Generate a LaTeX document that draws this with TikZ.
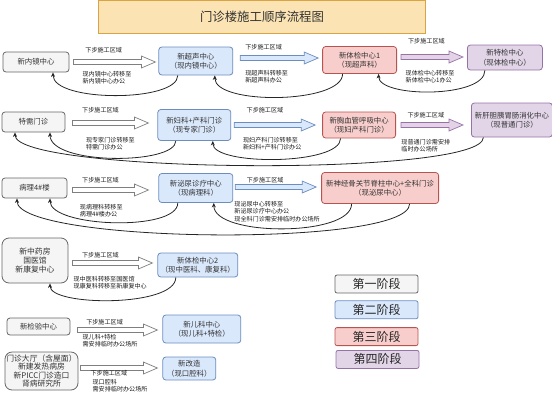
\documentclass[tikz,border=0pt]{standalone}
\usepackage{fontspec}
\setmainfont{Noto Sans CJK SC}
\usepackage{tikz}
\usetikzlibrary{calc,arrows.meta,positioning}
\definecolor{grayfill}{HTML}{F5F5F5}
\definecolor{graydraw}{HTML}{666666}
\definecolor{bluefill}{HTML}{DAE8FC}
\definecolor{bluedraw}{HTML}{6C8EBF}
\definecolor{redfill}{HTML}{F8CECC}
\definecolor{reddraw}{HTML}{B85450}
\definecolor{purplefill}{HTML}{E1D5E7}
\definecolor{purpledraw}{HTML}{9673A6}
\definecolor{arrowgray}{HTML}{7F7F7F}
\definecolor{arrowpurple}{HTML}{E4D2E6}
\definecolor{titlefill}{HTML}{FBE3B3}
\definecolor{titledraw}{HTML}{D9A441}
\tikzset{
  block/.style={draw=graydraw, line width=0.8pt, rounded corners=3pt, align=center,
    inner sep=1pt, text=black!80, font=\fontsize{7.4}{9.5}\selectfont},
  greyblock/.style={block, fill=grayfill, draw=graydraw},
  blueblock/.style={block, fill=bluefill, draw=bluedraw},
  redblock/.style={block, fill=redfill, draw=reddraw},
  purpleblock/.style={block, fill=purplefill, draw=purpledraw},
  legendbox/.style={block, minimum width=83pt, minimum height=18pt, rounded corners=2pt,
    font=\fontsize{12}{14}\selectfont, text=black!85},
  titlebox/.style={draw=titledraw, fill=titlefill, line width=1pt, minimum width=327pt,
    minimum height=33pt, font=\fontsize{12.4}{14}\selectfont, text=black!80},
  note/.style={font=\fontsize{6.1}{7.5}\selectfont, align=left, inner sep=0pt, text=black!90},
  flowarr/.style={line width=0.7pt, to path={let \p1=(\tikztostart), \p2=(\tikztotarget) in
    (\x1,\y1+2.5pt) -- (\x2-14pt,\y1+2.5pt) -- (\x2-14pt,\y1+6pt) -- (\x2,\y1)
    -- (\x2-14pt,\y1-6pt) -- (\x2-14pt,\y1-2.5pt) -- (\x1,\y1-2.5pt) -- cycle}},
  whiteflow/.style={flowarr, draw=arrowgray, fill=white},
  blueflow/.style={flowarr, draw=bluedraw, fill=bluefill},
  purpleflow/.style={flowarr, draw=purpledraw, fill=arrowpurple},
  retarr/.style={-{Stealth[length=4.5pt,width=4pt]}, line width=0.8pt, draw=black!85}
}
\begin{document}
\begin{tikzpicture}[x=1pt, y=-1pt]
  \useasboundingbox (0,0) rectangle (552,400);

  \node[titlebox] (title) at (262,17) {门诊楼施工顺序流程图};

  % row 1
  \node[greyblock, minimum width=66pt, minimum height=20pt] (neijing) at (36,62) {新内镜中心};
  \node[blueblock, minimum width=74pt, minimum height=28pt, right=89pt of neijing, yshift=1pt] (chaosheng) {新超声中心\\（现内镜中心）};
  \node[redblock, minimum width=74pt, minimum height=27pt, right=89pt of chaosheng, yshift=1pt] (tijian1) {新体检中心1\\（现超声科）};
  \node[purpleblock, minimum width=75pt, minimum height=25pt, right=70pt of tijian1, yshift=2.5pt] (tejian) {新特检中心\\（现体检中心）};

  \draw[whiteflow] ([xshift=4pt]neijing.east) to ([xshift=-3pt]chaosheng.west);
  \draw[blueflow] ([xshift=7pt,yshift=3pt]chaosheng.east) to ([xshift=-4pt]tijian1.west);
  \draw[purpleflow] ([xshift=4pt,yshift=3pt]tijian1.east) to ([xshift=-4pt]tejian.west);
  \path ([xshift=4pt]neijing.east) -- node[note, above=9pt, pos=0.37]{下步施工区域}
    node[note, below=9pt, pos=0.41]{现内镜中心转移至\\新内镜中心办公} ++(82,0);
  \path ([xshift=7pt,yshift=3pt]chaosheng.east) -- node[note, above=8pt, pos=0.3]{下步施工区域}
    node[note, below=12pt, pos=0.34]{现超声科转移至\\新超声科办公} ++(78,0);
  \path ([xshift=4pt,yshift=3pt]tijian1.east) -- node[note, above=13pt, pos=0.41]{下步施工区域}
    node[note, below=13pt, pos=0.47]{现体检中心转移至\\新体检中心1办公} ++(62,0);

  \draw[retarr] ([xshift=-18pt]chaosheng.south) .. controls +(0,27) and +(0,30) .. ([xshift=17pt]neijing.south);
  \draw[retarr] ([xshift=-17pt]tijian1.south) .. controls +(0,30) and +(0,30) .. ([xshift=19pt]chaosheng.south);
  \draw[retarr] ([xshift=-20pt]tejian.south) .. controls +(0,28) and +(0,24) .. ([xshift=19pt]tijian1.south);

  % row 2
  \node[greyblock, minimum width=63pt, minimum height=20pt] (texu) at (33.5,122) {特需门诊};
  \node[blueblock, minimum width=73pt, minimum height=31pt, right=92pt of texu, yshift=-3pt] (fuchan) {新妇科+产科门诊\\（现专家门诊）};
  \node[redblock, minimum width=73pt, minimum height=26pt, right=91pt of fuchan] (xiongxue) {新胸血管呼吸中心\\（现妇产科门诊）};
  \node[purpleblock, minimum width=81pt, minimum height=34pt, right=75pt of xiongxue, yshift=5pt] (gandan) {新肝胆胰胃肠消化中心\\（现普通门诊）};

  \draw[whiteflow] ([xshift=7pt,yshift=-1pt]texu.east) to ([xshift=-9pt]fuchan.west);
  \draw[blueflow] ([xshift=3pt]fuchan.east) to ([xshift=-7pt]xiongxue.west);
  \draw[purpleflow] ([xshift=5pt]xiongxue.east) to ([xshift=-8pt]gandan.west);
  \path ([xshift=7pt,yshift=-1pt]texu.east) -- node[note, above=10pt, pos=0.37]{下步施工区域}
    node[note, below=14pt, pos=0.5]{现专家门诊转移至\\特需门诊办公} ++(76,0);
  \path ([xshift=3pt]fuchan.east) -- node[note, above=12pt, pos=0.38]{下步施工区域}
    node[note, below=12pt, pos=0.47]{现妇产科门诊转移至\\新妇科+产科门诊办公} ++(81,0);
  \path ([xshift=5pt]xiongxue.east) -- node[note, above=7pt, pos=0.4]{下步施工区域}
    node[note, below=14pt, pos=0.4]{现普通门诊需安排\\临时办公场所} ++(62,0);

  \draw[retarr] ([xshift=-18.5pt]fuchan.south) .. controls +(0,24) and +(0,33) .. ([xshift=16.5pt]texu.south);
  \draw[retarr] ([xshift=-18.5pt]xiongxue.south) .. controls +(0,27) and +(0,25) .. ([xshift=18.5pt]fuchan.south);
  \draw[retarr] ([xshift=-28.5pt]gandan.south) .. controls +(0,40) and +(0,41) .. ([xshift=-18.5pt]texu.south);

  % row 3
  \node[greyblock, minimum width=65pt, minimum height=20pt] (bingli) at (34.5,188) {病理4\#楼};
  \node[blueblock, minimum width=74pt, minimum height=29pt, right=91pt of bingli] (miniao) {新泌尿诊疗中心\\（现病理科）};
  \node[redblock, minimum width=117pt, minimum height=31pt, right=88pt of miniao] (shenjing) {新神经骨关节脊柱中心+全科门诊\\（现泌尿中心）};

  \draw[whiteflow] ([xshift=5pt,yshift=-2pt]bingli.east) to ([xshift=-10pt]miniao.west);
  \draw[blueflow] ([xshift=2pt,yshift=1pt]miniao.east) to ([xshift=-5pt]shenjing.west);
  \path ([xshift=5pt,yshift=-2pt]bingli.east) -- node[note, above=7pt, pos=0.37]{下步施工区域}
    node[note, below=14pt, pos=0.38]{现病理科转移至\\病理4\#楼办公} ++(76,0);
  \path ([xshift=2pt,yshift=1pt]miniao.east) -- node[note, above=4pt, pos=0.37]{下步施工区域}
    node[note, below right=14pt and -1pt, pos=0]{现泌尿中心转移至\\新泌尿诊疗中心办公\\现全科门诊需安排临时办公场所} ++(81,0);

  \draw[retarr] ([xshift=-18pt]miniao.south) .. controls +(0,29) and +(0,29) .. ([xshift=15.5pt]bingli.south);
  \draw[retarr] ([xshift=-28.5pt]shenjing.south) .. controls +(0,33) and +(0,34) .. ([xshift=18pt]miniao.south);
  \draw[retarr] ([xshift=29.5pt]shenjing.south) .. controls +(0,44) and +(0,45) .. ([xshift=-17.5pt]bingli.south);

  % row 4
  \node[greyblock, rounded corners=7pt, minimum width=66pt, minimum height=45pt, font=\fontsize{7.8}{9}\selectfont] (zhongyao) at (35,260.5) {新中药房\\国医馆\\新康复中心};
  \node[blueblock, minimum width=80pt, minimum height=24pt, right=89pt of zhongyao, yshift=-4.5pt] (tijian2) {新体检中心2\\（现中医科、康复科）};

  \draw[whiteflow] ([xshift=4pt,yshift=-2.5pt]zhongyao.east) to ([xshift=-5pt]tijian2.west);
  \path ([xshift=4pt,yshift=-2.5pt]zhongyao.east) -- node[note, above=5pt, pos=0.35]{下步施工区域}
    node[note, below right=13pt and 1pt, pos=0]{现中医科转移至国医馆\\现康复科转移至新康复中心} ++(80,0);
  \draw[retarr] ([xshift=-22pt]tijian2.south) .. controls +(0,30) and +(0,23) .. ([xshift=15pt]zhongyao.south);

  % row 5
  \node[greyblock, minimum width=63pt, minimum height=17pt] (jianyan) at (38.5,326.5) {新检验中心};
  \node[blueblock, minimum width=78pt, minimum height=28pt, right=92pt of jianyan, yshift=-2.5pt] (erke) {新儿科中心\\（现儿科+特检）};

  \draw[whiteflow] ([xshift=7pt,yshift=-3.5pt]jianyan.east) to ([xshift=-5pt]erke.west);
  \path ([xshift=7pt,yshift=-3.5pt]jianyan.east) -- node[note, above=5pt, pos=0.34]{下步施工区域}
    node[note, below right=4pt and 5pt, pos=0]{现儿科+特检\\需安排临时办公场所} ++(80,0);

  % row 6
  \node[greyblock, rounded corners=7pt, minimum width=73pt, minimum height=38pt, font=\fontsize{7.8}{8.5}\selectfont] (dating) at (41.5,371) {门诊大厅（含屋面）\\新建发热病房\\新PICC门诊造口\\肾病研究所};
  \node[blueblock, minimum width=53pt, minimum height=23pt, right=84pt of dating, yshift=2.5pt] (gaizao) {新改造\\（现口腔科）};

  \draw[whiteflow] ([xshift=2pt,yshift=3pt]dating.east) to ([xshift=-5pt]gaizao.west);
  \path ([xshift=2pt,yshift=3pt]dating.east) -- node[note, below=2pt, pos=0.37]{下步施工区域}
    node[note, below right=11pt and 12pt, pos=0]{现口腔科\\需安排临时办公场所} ++(77,0);

  % legend
  \node[legendbox, fill=grayfill, draw=graydraw] (st1) at (376.5,284) {第一阶段};
  \node[legendbox, fill=bluefill, draw=bluedraw, below=7pt of st1] (st2) {第二阶段};
  \node[legendbox, fill=redfill, draw=reddraw, below=8pt of st2] (st3) {第三阶段};
  \node[legendbox, fill=purplefill, draw=purpledraw, below=4pt of st3, xshift=1pt] (st4) {第四阶段};
\end{tikzpicture}
\end{document}
